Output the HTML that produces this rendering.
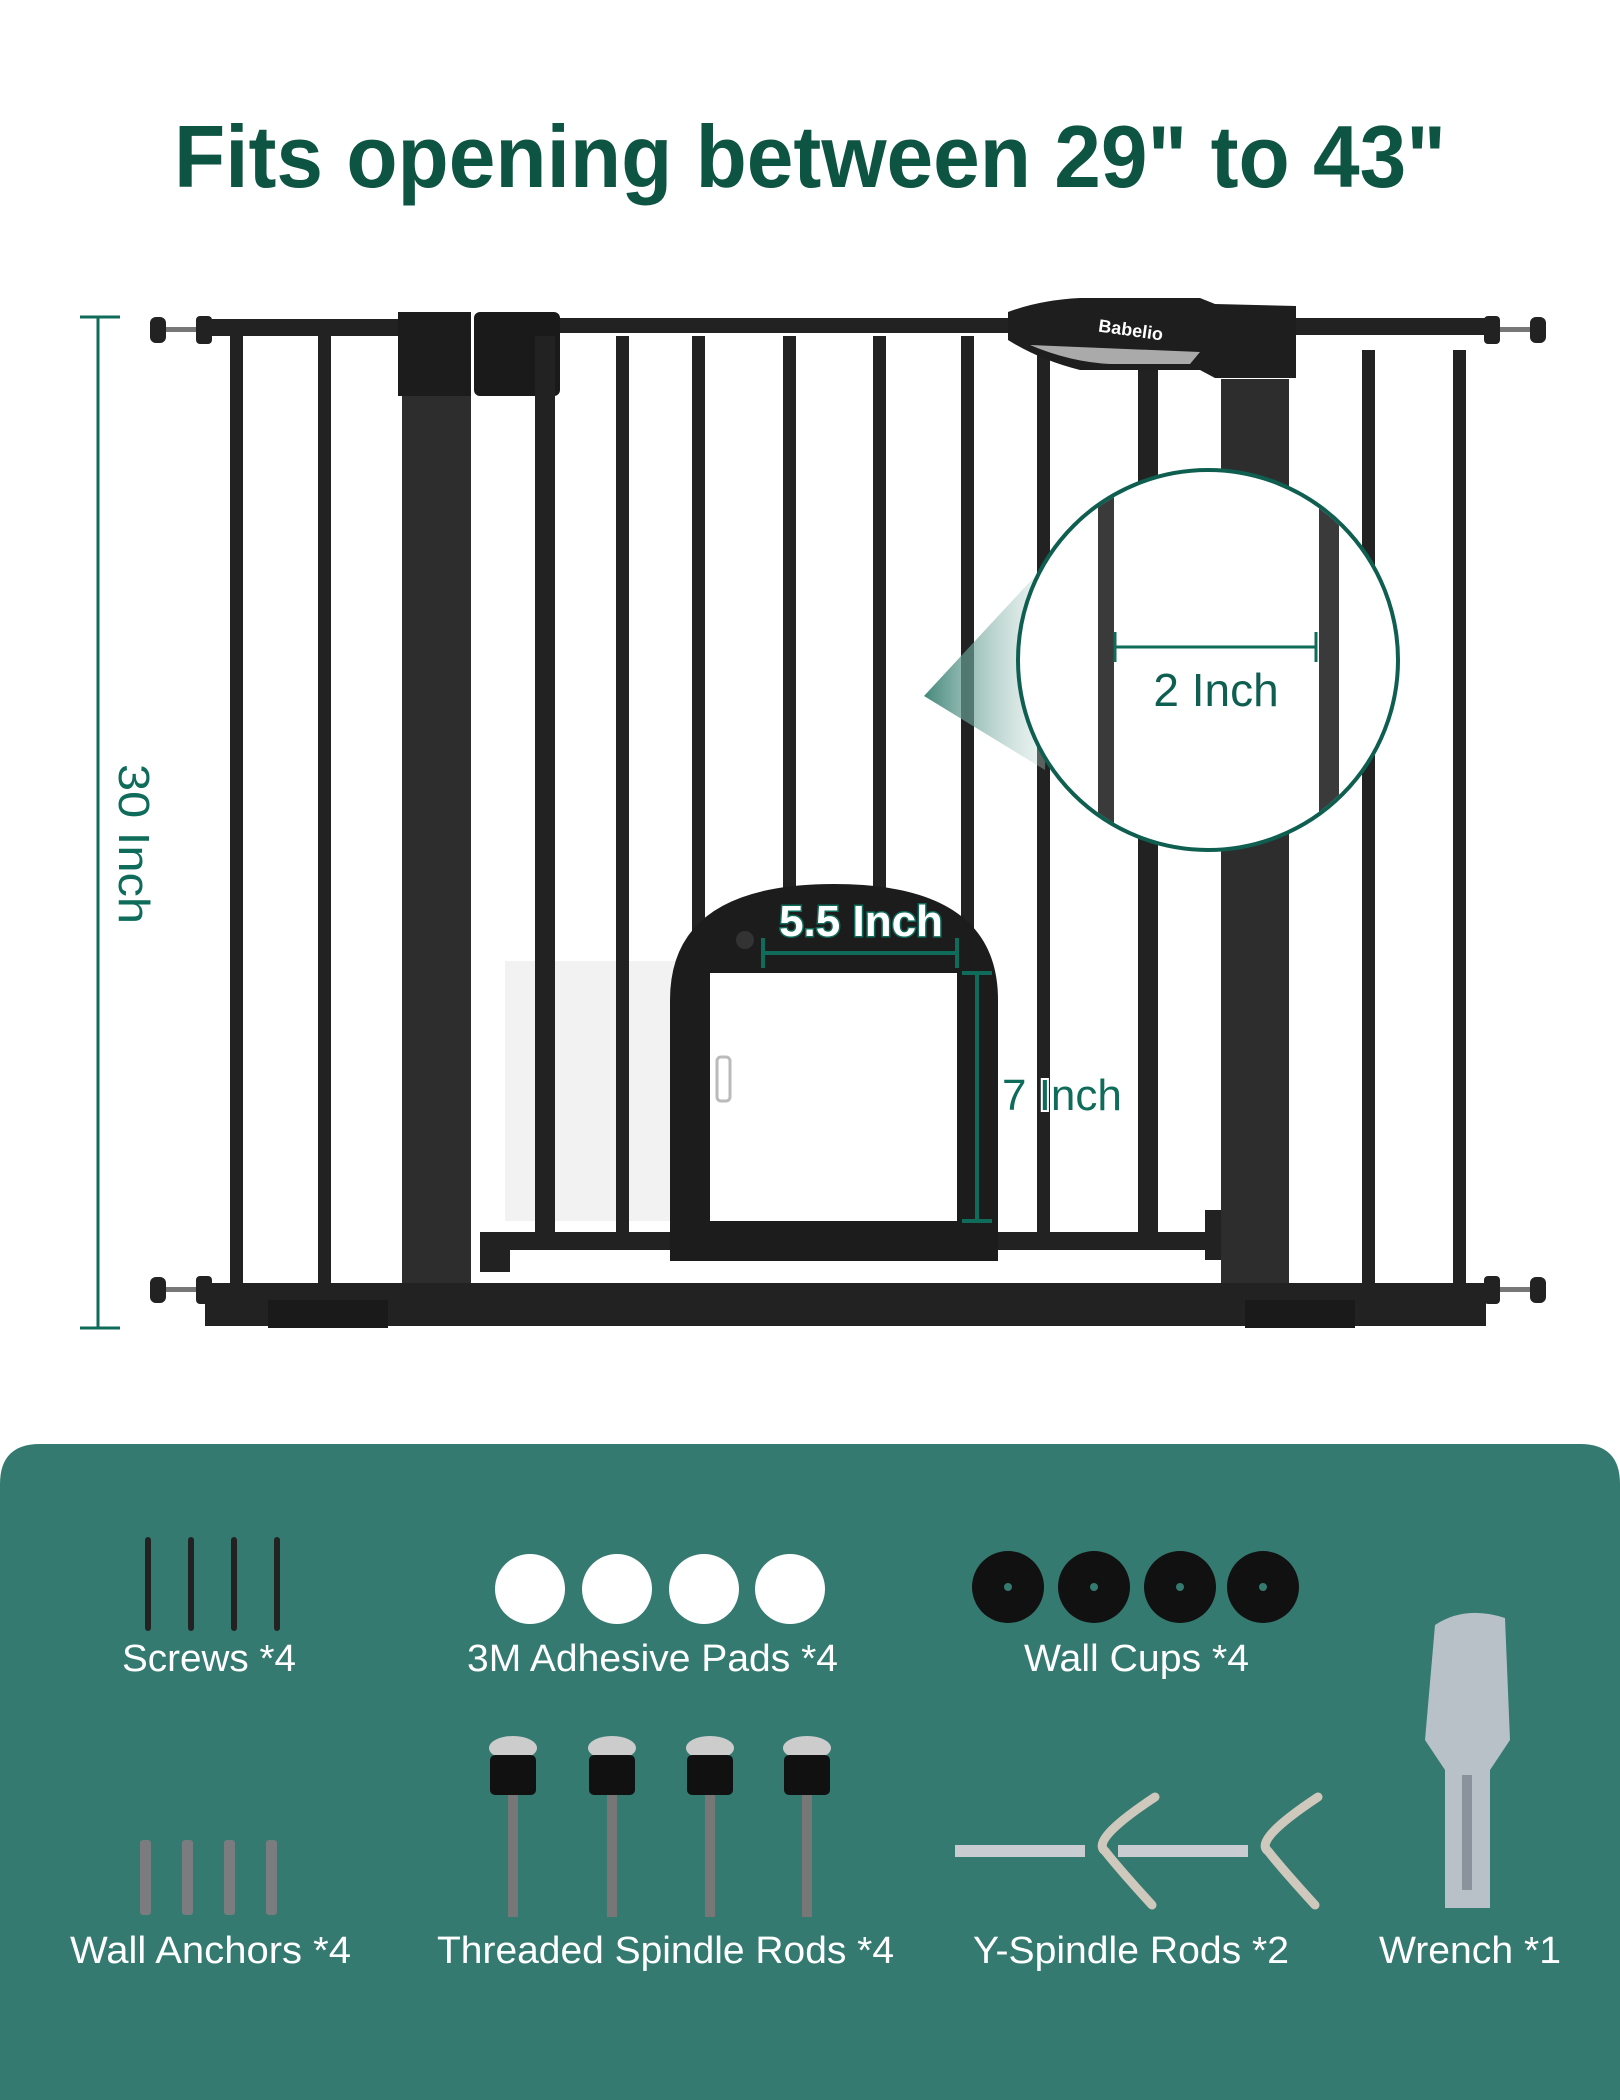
<!DOCTYPE html>
<html><head><meta charset="utf-8"><style>html,body{margin:0;padding:0;background:#fff}svg{display:block}</style></head>
<body>
<svg width="1620" height="2100" viewBox="0 0 1620 2100" xmlns="http://www.w3.org/2000/svg" font-family="Liberation Sans, sans-serif">
<defs>
<linearGradient id="cone" x1="0" y1="0" x2="1" y2="0"><stop offset="0" stop-color="#2f7a6c" stop-opacity="0.9"/><stop offset="1" stop-color="#cfe3de" stop-opacity="0.3"/></linearGradient>
<clipPath id="mag"><circle cx="1208" cy="660" r="188"/></clipPath>
</defs>
<rect width="1620" height="2100" fill="#fff"/>
<text x="174" y="187" font-size="88" font-weight="bold" fill="#0e5443" textLength="1272" lengthAdjust="spacingAndGlyphs">Fits opening between 29" to 43"</text>

<!-- vertical dim -->
<g stroke="#0f6b5a" stroke-width="3"><line x1="98" y1="317" x2="98" y2="1328"/><line x1="80" y1="317" x2="120" y2="317"/><line x1="80" y1="1328" x2="120" y2="1328"/></g>
<text transform="translate(119,844) rotate(90)" text-anchor="middle" font-size="44" fill="#0f6b5a" textLength="160" lengthAdjust="spacingAndGlyphs">30 Inch</text>

<!-- ghost panel -->
<rect x="505" y="961" width="258" height="260" fill="#f2f2f2"/>

<g fill="#222">
<!-- top rails -->
<rect x="205" y="319" width="200" height="17"/>
<rect x="548" y="318" width="465" height="15"/>
<rect x="1290" y="318" width="196" height="17"/>
<!-- knobs -->
<rect x="150" y="317" width="16" height="26" rx="6"/><rect x="196" y="316" width="16" height="28" rx="4"/><rect x="166" y="327" width="30" height="5" fill="#777"/>
<rect x="150" y="1277" width="16" height="26" rx="6"/><rect x="196" y="1276" width="16" height="28" rx="4"/><rect x="166" y="1287" width="30" height="5" fill="#777"/>
<rect x="1530" y="317" width="16" height="26" rx="6"/><rect x="1484" y="316" width="16" height="28" rx="4"/><rect x="1500" y="327" width="30" height="5" fill="#777"/>
<rect x="1530" y="1277" width="16" height="26" rx="6"/><rect x="1484" y="1276" width="16" height="28" rx="4"/><rect x="1500" y="1287" width="30" height="5" fill="#777"/>
<!-- left ext bars -->
<rect x="230" y="336" width="13" height="950"/><rect x="318" y="336" width="13" height="950"/>
<!-- left post -->
<rect x="402" y="370" width="69" height="930" fill="#2d2d2d"/>
<rect x="398" y="312" width="73" height="84" fill="#1c1c1c"/>
<rect x="474" y="312" width="86" height="84" rx="6" fill="#1a1a1a"/>
<!-- gate door bars -->
<rect x="535" y="336" width="20" height="910"/>
<rect x="616" y="336" width="13" height="910"/>
<rect x="692" y="336" width="13" height="910"/>
<rect x="783" y="336" width="13" height="910"/>
<rect x="873" y="336" width="13" height="910"/>
<rect x="961" y="336" width="13" height="910"/>
<rect x="1037" y="336" width="13" height="910"/>
<rect x="1138" y="336" width="20" height="910"/>
<rect x="480" y="1232" width="730" height="18"/>
<rect x="480" y="1232" width="30" height="40"/>
<rect x="1205" y="1210" width="20" height="50"/>
<!-- right post -->
<rect x="1221" y="379" width="68" height="921" fill="#2d2d2d"/>
<!-- right ext bars -->
<rect x="1362" y="350" width="13" height="935"/><rect x="1453" y="350" width="13" height="935"/>
<!-- bottom rail -->
<rect x="205" y="1283" width="1281" height="43"/>
<rect x="268" y="1300" width="120" height="28" fill="#1a1a1a"/><rect x="1245" y="1300" width="110" height="28" fill="#1a1a1a"/>
</g>
<!-- latch -->
<path d="M1008 312 Q1040 300 1080 298 L1200 298 L1215 304 L1296 306 L1296 378 L1215 378 L1200 370 L1080 370 Q1040 360 1008 340 Z" fill="#1e1e1e"/>
<path d="M1030 345 Q1070 362 1110 364 L1190 364 L1200 352 Z" fill="#aaa"/>
<text x="1130" y="336" font-size="18" font-weight="bold" fill="#fff" transform="rotate(8 1130 336)" text-anchor="middle">Babelio</text>

<!-- pet door -->
<path d="M670 1261 L670 1000 Q670 884 834 884 Q998 884 998 1000 L998 1261 Z" fill="#1c1c1c"/>
<rect x="710" y="973" width="247" height="248" fill="#fff"/>
<rect x="717" y="1057" width="13" height="44" rx="4" fill="none" stroke="#bbb" stroke-width="3"/>
<circle cx="745" cy="940" r="9" fill="#333"/>
<g stroke="#0f6b5a" stroke-width="4"><line x1="763" y1="953" x2="957" y2="953"/><line x1="763" y1="938" x2="763" y2="968"/><line x1="957" y1="938" x2="957" y2="968"/>
<line x1="977" y1="973" x2="977" y2="1221"/><line x1="962" y1="973" x2="992" y2="973"/><line x1="962" y1="1221" x2="992" y2="1221"/></g>
<text x="861" y="936" text-anchor="middle" font-size="44" fill="#fff" stroke="#0f6b5a" stroke-width="3" paint-order="stroke" font-weight="bold">5.5 Inch</text>
<text x="1002" y="1110" font-size="44" fill="#0f6b5a" stroke="#fff" stroke-width="4" paint-order="stroke">7 Inch</text>

<!-- magnifier cone -->
<path d="M924 696 L1050 560 L1045 770 Z" fill="url(#cone)"/>
<circle cx="1208" cy="660" r="190" fill="#fff"/>
<g clip-path="url(#mag)">
<rect x="1098" y="460" width="16" height="400" fill="#3a3a3a"/>
<rect x="1319" y="460" width="20" height="400" fill="#3a3a3a"/>
</g>
<circle cx="1208" cy="660" r="190" fill="none" stroke="#0f5f51" stroke-width="4"/>
<g stroke="#0f6b5a" stroke-width="3"><line x1="1115" y1="647" x2="1316" y2="647"/><line x1="1115" y1="632" x2="1115" y2="662"/><line x1="1316" y1="632" x2="1316" y2="662"/></g>
<text x="1216" y="706" text-anchor="middle" font-size="46" fill="#0f5f51">2 Inch</text>

<!-- bottom panel -->
<path d="M0 1484 Q0 1444 40 1444 L1580 1444 Q1620 1444 1620 1484 L1620 2100 L0 2100 Z" fill="#347a70"/>

<!-- screws -->
<g stroke="#222" stroke-width="6" stroke-linecap="round">
<line x1="148" y1="1540" x2="148" y2="1628"/><line x1="191" y1="1540" x2="191" y2="1628"/><line x1="234" y1="1540" x2="234" y2="1628"/><line x1="277" y1="1540" x2="277" y2="1628"/></g>
<!-- pads -->
<g fill="#fff"><circle cx="530" cy="1589" r="35"/><circle cx="617" cy="1589" r="35"/><circle cx="704" cy="1589" r="35"/><circle cx="790" cy="1589" r="35"/></g>
<!-- cups -->
<g fill="#111"><circle cx="1008" cy="1587" r="36"/><circle cx="1094" cy="1587" r="36"/><circle cx="1180" cy="1587" r="36"/><circle cx="1263" cy="1587" r="36"/></g>
<g fill="#347a70"><circle cx="1008" cy="1587" r="4"/><circle cx="1094" cy="1587" r="4"/><circle cx="1180" cy="1587" r="4"/><circle cx="1263" cy="1587" r="4"/></g>
<!-- wrench -->
<path d="M1435 1625 Q1465 1605 1505 1618 L1510 1740 L1490 1770 L1490 1908 L1445 1908 L1445 1770 L1425 1740 Z" fill="#b8c0c8"/>
<rect x="1462" y="1775" width="10" height="115" fill="#8a939b"/>
<!-- anchors -->
<g fill="#7a7c80"><rect x="140" y="1840" width="11" height="75" rx="3"/><rect x="182" y="1840" width="11" height="75" rx="3"/><rect x="224" y="1840" width="11" height="75" rx="3"/><rect x="266" y="1840" width="11" height="75" rx="3"/></g>
<!-- spindle rods -->
<g>
<g fill="#ccc"><ellipse cx="513" cy="1748" rx="24" ry="12"/><ellipse cx="612" cy="1748" rx="24" ry="12"/><ellipse cx="710" cy="1748" rx="24" ry="12"/><ellipse cx="807" cy="1748" rx="24" ry="12"/></g>
<g fill="#111"><rect x="490" y="1755" width="46" height="40" rx="5"/><rect x="589" y="1755" width="46" height="40" rx="5"/><rect x="687" y="1755" width="46" height="40" rx="5"/><rect x="784" y="1755" width="46" height="40" rx="5"/></g>
<g fill="#777"><rect x="508" y="1795" width="10" height="122"/><rect x="607" y="1795" width="10" height="122"/><rect x="705" y="1795" width="10" height="122"/><rect x="802" y="1795" width="10" height="122"/></g>
</g>
<!-- Y rods -->
<g fill="#c9cdd2"><rect x="955" y="1845" width="130" height="12"/><rect x="1118" y="1845" width="130" height="12"/></g>
<g fill="none" stroke="#cfc8bc" stroke-width="9" stroke-linecap="round">
<path d="M1155 1797 Q1090 1840 1105 1851 Q1120 1870 1152 1905"/>
<path d="M1318 1797 Q1253 1840 1268 1851 Q1283 1870 1315 1905"/></g>

<!-- labels -->
<g fill="#fff" font-size="38">
<text x="122" y="1671" textLength="174" lengthAdjust="spacingAndGlyphs">Screws *4</text>
<text x="467" y="1671" textLength="371" lengthAdjust="spacingAndGlyphs">3M Adhesive Pads *4</text>
<text x="1024" y="1671" textLength="225" lengthAdjust="spacingAndGlyphs">Wall Cups *4</text>
<text x="70" y="1963" textLength="281" lengthAdjust="spacingAndGlyphs">Wall Anchors *4</text>
<text x="437" y="1963" textLength="457" lengthAdjust="spacingAndGlyphs">Threaded Spindle Rods *4</text>
<text x="973" y="1963" textLength="316" lengthAdjust="spacingAndGlyphs">Y-Spindle Rods *2</text>
<text x="1379" y="1963" textLength="182" lengthAdjust="spacingAndGlyphs">Wrench *1</text>
</g>
</svg>
</body></html>
